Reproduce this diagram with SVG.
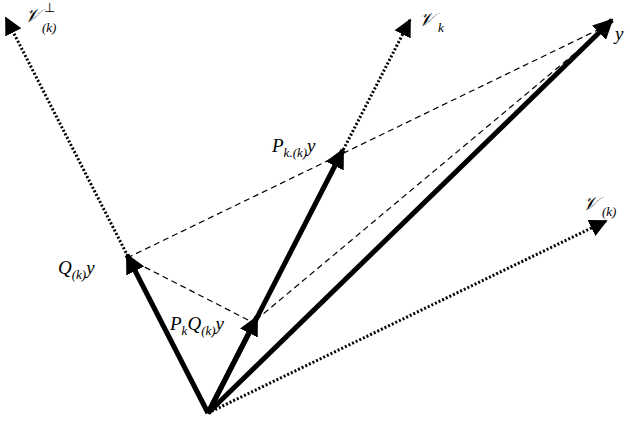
<svg xmlns="http://www.w3.org/2000/svg" width="630" height="427" viewBox="0 0 630 427">
<defs>
<marker id="ah" viewBox="0 0 10 10" refX="9" refY="5" markerWidth="4" markerHeight="4" orient="auto" markerUnits="strokeWidth"><path d="M0,0 L10,5 L0,10 z" fill="#000"/></marker>
<marker id="ahd" viewBox="0 0 10 10" refX="9" refY="5" markerWidth="6" markerHeight="6" orient="auto" markerUnits="strokeWidth"><path d="M0,0 L10,5 L0,10 z" fill="#000"/></marker>
</defs>
<style>
.thick{stroke:#000;stroke-width:5;fill:none;marker-end:url(#ah)}
.dot{stroke:#000;stroke-width:3;stroke-dasharray:2 2;fill:none;marker-end:url(#ahd)}
.dash{stroke:#000;stroke-width:1.2;stroke-dasharray:6 4;fill:none}
text{font-family:"Liberation Serif",serif;font-style:italic;font-size:19px;fill:#000}
.s{font-size:13px}
.n{font-style:normal}
</style>
<rect width="630" height="427" fill="#fff"/>
<g id="connectors">
<line class="dash" x1="127" y1="258" x2="610" y2="24"/>
<line class="dash" x1="127" y1="258" x2="252" y2="322"/>
<line class="dash" x1="256" y1="320" x2="610" y2="24"/>
<line class="dot" x1="208" y1="413" x2="6" y2="18"/>
<line class="dot" x1="208" y1="413" x2="410" y2="20"/>
<line class="dot" x1="208" y1="413" x2="606" y2="221"/>
<line class="thick" x1="208" y1="413" x2="612" y2="20"/>
<line class="thick" x1="208" y1="413" x2="127" y2="255"/>
<line class="thick" x1="208" y1="413" x2="343" y2="150"/>
<line class="thick" x1="208" y1="413" x2="257" y2="317"/>
</g>
<g id="n-vperp"><text x="24" y="22">𝒱</text><text class="s n" x="44" y="12">⊥</text><text class="s" x="42" y="32">(k)</text></g>
<g id="n-vk"><text x="418" y="26">𝒱</text><text class="s" x="438" y="32">k</text></g>
<g id="n-y"><text x="615" y="40">y</text></g>
<g id="n-v_k"><text x="582" y="210">𝒱</text><text class="s" x="602" y="216">(k)</text></g>
<g id="n-q"><text x="58" y="274">Q<tspan class="s" dy="5">(k)</tspan><tspan dy="-5">y</tspan></text></g>
<g id="n-pk"><text x="272" y="152">P<tspan class="s" dy="5">k.(k)</tspan><tspan dy="-5">y</tspan></text></g>
<g id="n-pkq"><text x="170" y="330">P<tspan class="s" dy="5">k</tspan><tspan dy="-5">Q</tspan><tspan class="s" dy="5">(k)</tspan><tspan dy="-5">y</tspan></text></g>
</svg>
